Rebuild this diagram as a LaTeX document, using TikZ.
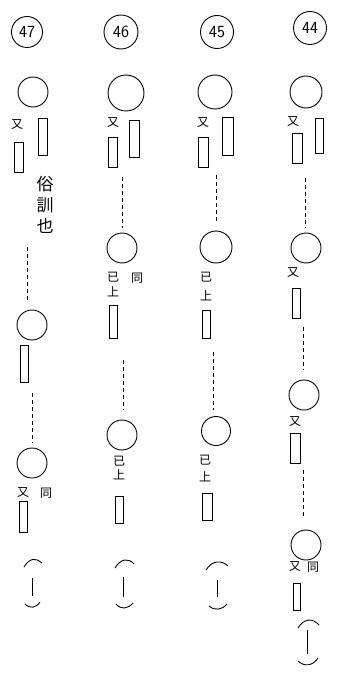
\documentclass[tikz,border=0pt]{standalone}
\usepackage{fontspec}
\newfontfamily\cjk{Noto Sans CJK JP}
\begin{document}
\begin{tikzpicture}[x=1pt,y=-1pt,line width=0.9pt,
  ring/.style={draw,circle,inner sep=0pt,minimum size=30pt},
  numring/.style={draw,circle,inner sep=0pt,minimum size=31pt,font=\sffamily\fontsize{17}{17}\selectfont},
  slot/.style={draw,rectangle,inner sep=0pt},
  lbl/.style={inner sep=0pt,font=\cjk\fontsize{12}{12}\selectfont},
  biglbl/.style={inner sep=0pt,font=\cjk\fontsize{17}{21}\selectfont,align=center},
  dashline/.style={dash pattern=on 4pt off 3pt,line width=0.7pt}]
\useasboundingbox (0,0) rectangle (337,679);
% ---------- column 47 ----------
\node[numring] (n47) at (27,32) {47};
\node[ring] (c47a) at (33,92) {};
\node[lbl] (y47a) at (17,125) {又};
\node[slot,minimum width=9pt,minimum height=37pt] (r47a) at (42.5,136.5) {};
\node[slot,minimum width=9pt,minimum height=30pt] (r47b) at (19,157) {};
\node[biglbl] (t47) at (45,205) {俗\\訓\\也};
\coordinate (d47a) at (27,247); \coordinate (e47a) at (27,300);
\draw[dashline] (d47a) -- (e47a);
\node[ring] (c47b) at (32,325) {};
\node[slot,minimum width=8pt,minimum height=37pt] (r47c) at (24,363.5) {};
\coordinate (d47b) at (32,393); \coordinate (e47b) at (32,443);
\draw[dashline] (d47b) -- (e47b);
\node[ring] (c47c) at (32,463) {};
\node[lbl] (y47b) at (23,493) {又};
\node[lbl] (g47) at (46,493) {同};
\node[slot,minimum width=8pt,minimum height=31pt] (r47d) at (23,516.5) {};
\draw (24,567) .. controls (30,557) and (37,558) .. (42,563);
\draw (32,578) -- (32,596);
\draw (25,604) .. controls (30,609) and (36,608) .. (40,602);
% ---------- column 46 ----------
\node[numring,minimum size=34pt] (n46) at (121,32) {46};
\node[ring,minimum size=36pt] (c46a) at (126,93) {};
\node[lbl] (y46a) at (113,123) {又};
\node[slot,minimum width=10pt,minimum height=37pt] (r46a) at (134.5,138.5) {};
\node[slot,minimum width=9pt,minimum height=30pt] (r46b) at (112.5,152) {};
\coordinate (d46a) at (122,177); \coordinate (e46a) at (122,228);
\draw[dashline] (d46a) -- (e46a);
\node[ring] (c46b) at (122,248) {};
\node[lbl] (k46a) at (113,277) {已};
\node[lbl] (s46a) at (113,292) {上};
\node[lbl] (g46) at (137,278) {同};
\node[slot,minimum width=8pt,minimum height=33pt] (r46c) at (113.5,321.5) {};
\coordinate (d46b) at (123,360); \coordinate (e46b) at (123,410);
\draw[dashline] (d46b) -- (e46b);
\node[ring] (c46c) at (122,435) {};
\node[lbl] (k46b) at (119,461) {已};
\node[lbl] (s46b) at (119,475) {上};
\node[slot,minimum width=8pt,minimum height=27pt] (r46d) at (119,510) {};
\draw (115,568) .. controls (121,558) and (129,558) .. (134,564);
\draw (123,577) -- (123,597);
\draw (116,604) .. controls (121,610) and (128,609) .. (133,603);
% ---------- column 45 ----------
\node[numring,minimum size=33pt] (n45) at (217,32) {45};
\node[ring,minimum size=34pt] (c45a) at (215,92) {};
\node[lbl] (y45a) at (203,123) {又};
\node[slot,minimum width=11pt,minimum height=38pt] (r45a) at (227.5,136) {};
\node[slot,minimum width=10pt,minimum height=30pt] (r45b) at (203,152) {};
\coordinate (d45a) at (216,175); \coordinate (e45a) at (216,222);
\draw[dashline] (d45a) -- (e45a);
\node[ring,minimum size=32pt] (c45b) at (216,247) {};
\node[lbl] (k45a) at (206,277) {已};
\node[lbl] (s45a) at (206,296) {上};
\node[slot,minimum width=8pt,minimum height=28pt] (r45c) at (206,324) {};
\coordinate (d45b) at (213,352); \coordinate (e45b) at (213,410);
\draw[dashline] (d45b) -- (e45b);
\node[ring,minimum size=29pt] (c45c) at (216,431) {};
\node[lbl] (k45b) at (205,460) {已};
\node[lbl] (s45b) at (205,477) {上};
\node[slot,minimum width=10pt,minimum height=27pt] (r45d) at (207.5,506.5) {};
\draw (206,570) .. controls (212,560) and (222,560) .. (228,566);
\draw (217,580) -- (217,597);
\draw (209,606) .. controls (215,611) and (222,610) .. (227,604);
% ---------- column 44 ----------
\node[numring,minimum size=33pt] (n44) at (310,28) {44};
\node[ring,minimum size=32pt] (c44a) at (306,92) {};
\node[lbl] (y44a) at (293,122) {又};
\node[slot,minimum width=8pt,minimum height=35pt] (r44a) at (319,135.5) {};
\node[slot,minimum width=10pt,minimum height=30pt] (r44b) at (297,148) {};
\coordinate (d44a) at (305,178); \coordinate (e44a) at (305,228);
\draw[dashline] (d44a) -- (e44a);
\node[ring] (c44b) at (306,248) {};
\node[lbl] (y44b) at (293,273) {又};
\node[slot,minimum width=8pt,minimum height=30pt] (r44c) at (296,303) {};
\coordinate (d44b) at (303,327); \coordinate (e44b) at (303,370);
\draw[dashline] (d44b) -- (e44b);
\node[ring] (c44c) at (304,395) {};
\node[lbl] (y44c) at (295,422) {又};
\node[slot,minimum width=10pt,minimum height=30pt] (r44d) at (295,448) {};
\coordinate (d44c) at (303,470); \coordinate (e44c) at (303,517);
\draw[dashline] (d44c) -- (e44c);
\node[ring] (c44d) at (306,545) {};
\node[lbl] (y44d) at (295,567) {又};
\node[lbl] (g44) at (313,567) {同};
\node[slot,minimum width=7pt,minimum height=27pt] (r44e) at (296.5,596.5) {};
\draw (298,628) .. controls (304,618) and (313,618) .. (319,625);
\draw (307,630) -- (307,654);
\draw (298,661) .. controls (304,667) and (313,666) .. (318,658);
\end{tikzpicture}
\end{document}
